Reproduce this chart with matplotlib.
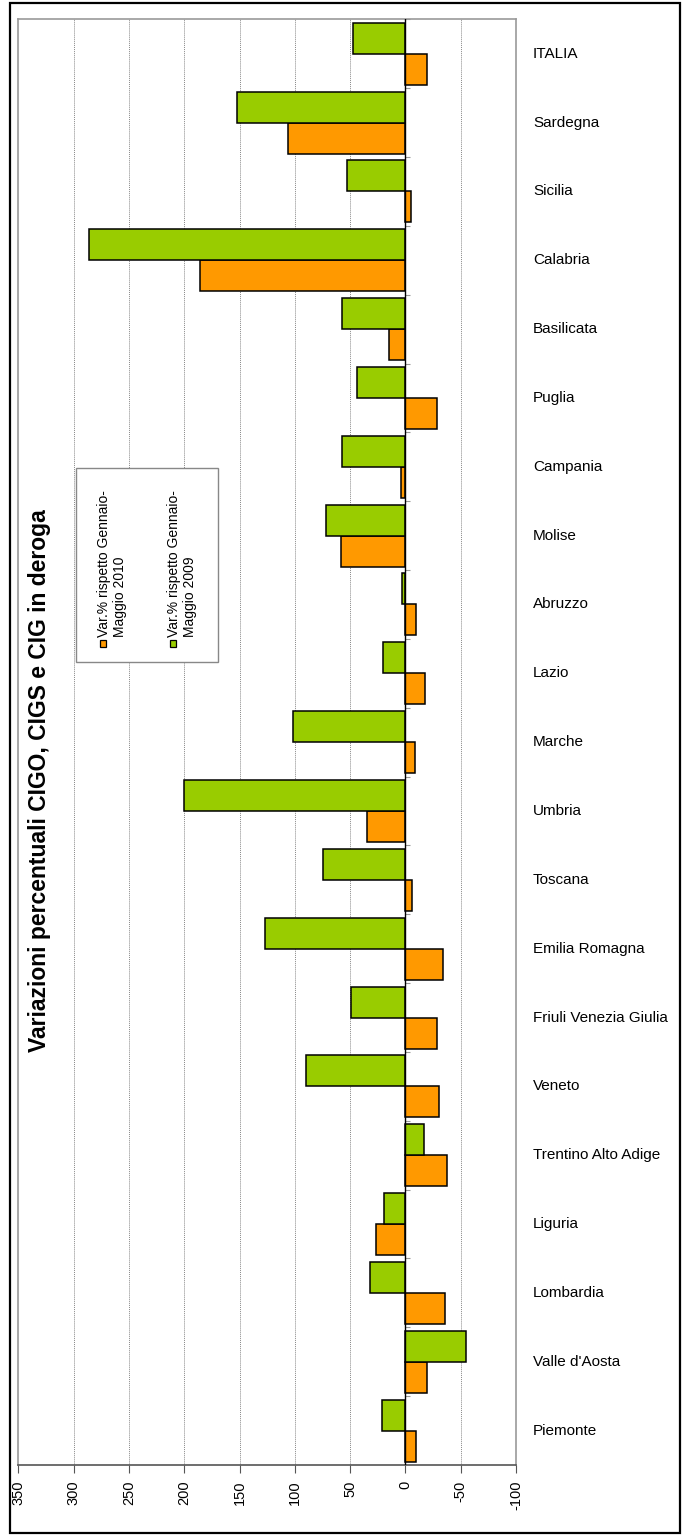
import matplotlib
matplotlib.use("Agg")
import matplotlib.pyplot as plt
import matplotlib.transforms as mtransforms
from matplotlib.patches import Rectangle
import numpy as np

plt.rcParams['font.family'] = ['Liberation Sans', 'DejaVu Sans']

# Categories from bottom (Piemonte) to top (ITALIA)
categories = ["Piemonte", "Valle d'Aosta", "Lombardia", "Liguria", "Trentino Alto Adige",
              "Veneto", "Friuli Venezia Giulia", "Emilia Romagna", "Toscana", "Umbria",
              "Marche", "Lazio", "Abruzzo", "Molise", "Campania", "Puglia",
              "Basilicata", "Calabria", "Sicilia", "Sardegna", "ITALIA"]

var_2010 = [-10, -19.5, -36, 27, -38, -30.6, -28.2, -33.6, -5.8, 34.8,
            -8.5, -17.6, -9.4, 58.2, 3.9, -28.2, 14.5, 186, -5.5, 105.8, -19.7]
var_2009 = [21, -55, 32, 19, -17, 90, 49.4, 127.3, 74.8, 200.3,
            101.8, 20.3, 3.3, 71.5, 57.3, 43.9, 57.3, 286, 52.7, 152.7, 47.3]

label_2010 = "Var.% rispetto Gennaio-\nMaggio 2010"
label_2009 = "Var.% rispetto Gennaio-\nMaggio 2009"
title = "Variazioni percentuali CIGO, CIGS e CIG in deroga"
x_ticks = [350, 300, 250, 200, 150, 100, 50, 0, -50, -100]

W, H = 693, 1536
fig = plt.figure(figsize=(W / 100, H / 100), dpi=100)

def fx(px):
    return px / W

def fy(py):
    return 1 - py / H

ax_left, ax_right, ax_top, ax_bottom = 18.3, 516, 19.3, 1465
ax = fig.add_axes([fx(ax_left), fy(ax_bottom), fx(ax_right - ax_left), (ax_bottom - ax_top) / H])

y = np.arange(len(categories))
h = 0.45
ax.barh(y - h / 2, var_2010, height=h, color="#FF9900", edgecolor="black", linewidth=1.1, zorder=3)
ax.barh(y + h / 2, var_2009, height=h, color="#99CC00", edgecolor="black", linewidth=1.1, zorder=3)

ax.set_xlim(350, -100)
ax.set_ylim(-0.5, len(categories) - 0.5)
ax.set_xticks(x_ticks)
ax.set_xticklabels([str(t) for t in x_ticks], rotation=90, fontsize=10.5)
ax.tick_params(axis='x', direction='out', length=6, width=0.8, color='#555555', pad=5)
ax.set_yticks([])
for xt in x_ticks[1:-1]:
    ax.axvline(xt, color='#888888', linestyle=(0, (1, 1)), linewidth=0.7, zorder=1)
ax.axvline(0, color='black', linewidth=1.0, zorder=4)

# small category tick marks along zero line
for b in np.arange(-0.5, len(categories), 1.0):
    ax.plot([0, -4], [b, b], color='#999999', linewidth=0.8, zorder=2, solid_capstyle='butt')

for s in ax.spines.values():
    s.set_color('#999999')
    s.set_linewidth(1.2)
ax.spines['bottom'].set_color('#555555')

# category labels on the right
trans = mtransforms.blended_transform_factory(ax.transAxes, ax.transData)
xl = (533 - ax_left) / (ax_right - ax_left)
for yi, c in zip(y, categories):
    ax.text(xl, yi, c, transform=trans, ha='left', va='center', fontsize=11, clip_on=False)

# title
fig.text(fx(40), fy(781), title, rotation=90, fontsize=16.5, fontweight='bold',
         ha='center', va='center')

# legend (rotated, drawn manually)
fig.add_artist(Rectangle((fx(75.7), fy(662)), fx(218 - 75.7), (662 - 468) / H,
                         transform=fig.transFigure, facecolor='white', edgecolor='#888888',
                         linewidth=1.0, zorder=5))
for cx, col, lab in [(103, "#FF9900", label_2010), (173, "#99CC00", label_2009)]:
    fig.add_artist(Rectangle((fx(cx - 3.3), fy(647)), fx(6.6), 6.6 / H,
                             transform=fig.transFigure, facecolor=col, edgecolor='black',
                             linewidth=0.9, zorder=6))
    fig.text(fx(cx + 9), fy(637), lab, rotation=90, fontsize=10, ha='center', va='bottom',
             multialignment='left', zorder=6, linespacing=1.25)

# outer border
fig.add_artist(Rectangle((fx(10), fy(1533)), fx(680 - 10), (1533 - 3) / H,
                         transform=fig.transFigure, facecolor='none', edgecolor='black',
                         linewidth=1.6, zorder=7))

fig.savefig("out.png", dpi=100)
